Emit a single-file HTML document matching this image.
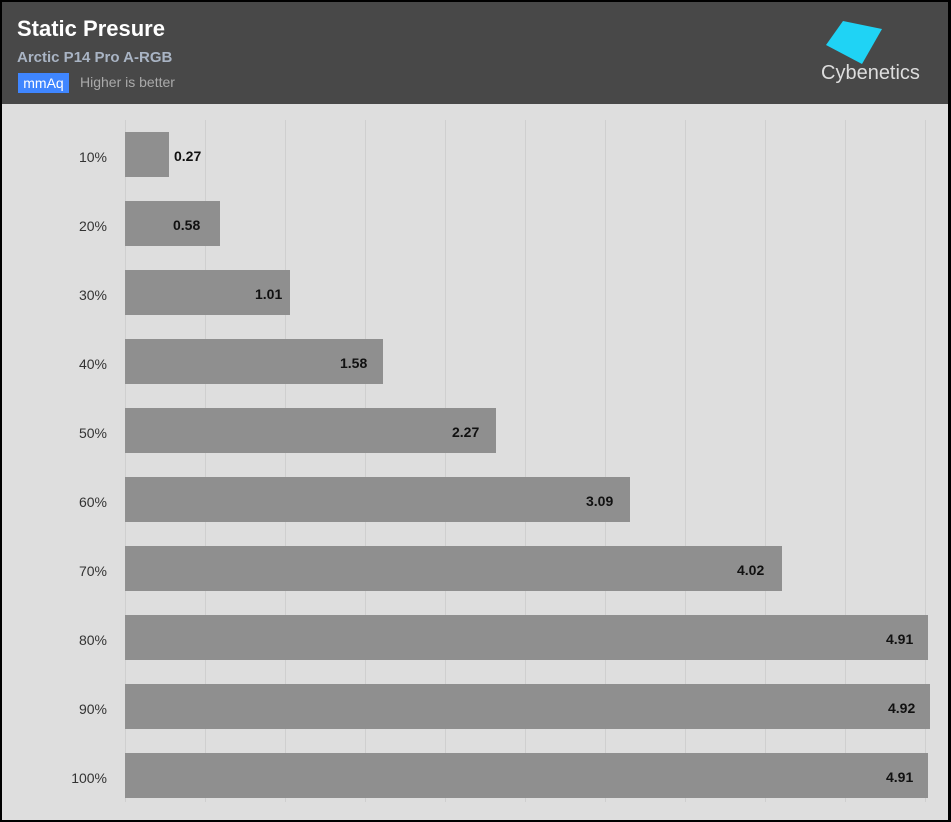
<!DOCTYPE html>
<html><head><style>
body{margin:0;width:951px;height:822px;overflow:hidden;background:#000;font-family:"Liberation Sans",sans-serif}
#f{position:absolute;left:2px;top:2px;width:946px;height:818px;background:#dedede}
#h{position:absolute;left:0;top:0;width:946px;height:102px;background:#484848}
.t{position:absolute;color:#fff}
.g{position:absolute;top:118px;width:1px;height:682px;background:#cfcfcf}
.b{position:absolute;left:123px;height:45px;background:#8f8f8f}
.v{position:absolute;font-weight:bold;font-size:14px;color:#111;line-height:49px}
.l{position:absolute;left:0;width:105px;text-align:right;font-size:14px;color:#333;line-height:51px}
</style></head><body><div id="f">
<div id="h">
<div class="t" style="left:15px;top:14px;font-size:22px;font-weight:bold">Static Presure</div>
<div class="t" style="left:15px;top:47px;font-size:15px;font-weight:bold;color:#a9b4c4">Arctic P14 Pro A-RGB</div>
<div class="t" style="left:16px;top:71px;width:51px;height:20px;background:#3f86ff;font-size:14px;line-height:20px;text-align:center">mmAq</div>
<div class="t" style="left:78px;top:72px;font-size:14px;color:#aaa">Higher is better</div>
<svg style="position:absolute;left:0;top:0" width="946" height="102"><polygon points="841,19 880,27 860,62 824,43" fill="#1fd3f5"/>
<text x="819" y="77" fill="#ddd" font-size="20" font-family="Liberation Sans">Cybenetics</text></svg>
</div>
<div class="g" style="left:123px"></div><div class="g" style="left:203px"></div><div class="g" style="left:283px"></div><div class="g" style="left:363px"></div><div class="g" style="left:443px"></div><div class="g" style="left:523px"></div><div class="g" style="left:603px"></div><div class="g" style="left:683px"></div><div class="g" style="left:763px"></div><div class="g" style="left:843px"></div><div class="g" style="left:923px"></div>
<div class="l" style="top:130px">10%</div><div class="b" style="top:130px;width:44px"></div><div class="v" style="top:130px;left:172px">0.27</div>
<div class="l" style="top:199px">20%</div><div class="b" style="top:199px;width:95px"></div><div class="v" style="top:199px;left:171px">0.58</div>
<div class="l" style="top:268px">30%</div><div class="b" style="top:268px;width:165px"></div><div class="v" style="top:268px;left:253px">1.01</div>
<div class="l" style="top:337px">40%</div><div class="b" style="top:337px;width:258px"></div><div class="v" style="top:337px;left:338px">1.58</div>
<div class="l" style="top:406px">50%</div><div class="b" style="top:406px;width:371px"></div><div class="v" style="top:406px;left:450px">2.27</div>
<div class="l" style="top:475px">60%</div><div class="b" style="top:475px;width:505px"></div><div class="v" style="top:475px;left:584px">3.09</div>
<div class="l" style="top:544px">70%</div><div class="b" style="top:544px;width:657px"></div><div class="v" style="top:544px;left:735px">4.02</div>
<div class="l" style="top:613px">80%</div><div class="b" style="top:613px;width:803px"></div><div class="v" style="top:613px;left:884px">4.91</div>
<div class="l" style="top:682px">90%</div><div class="b" style="top:682px;width:805px"></div><div class="v" style="top:682px;left:886px">4.92</div>
<div class="l" style="top:751px">100%</div><div class="b" style="top:751px;width:803px"></div><div class="v" style="top:751px;left:884px">4.91</div>
</div></body></html>
